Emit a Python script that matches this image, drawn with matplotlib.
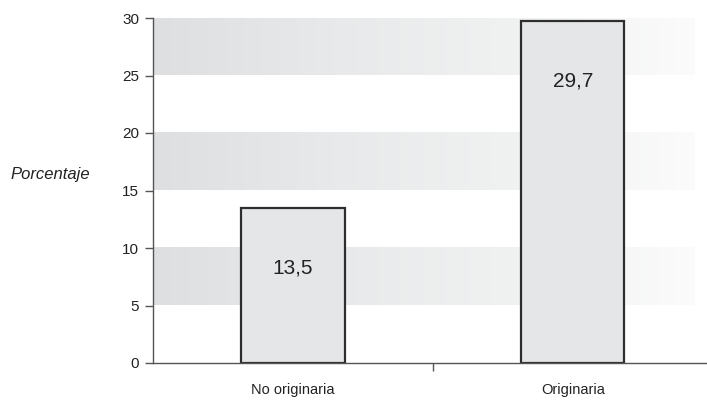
import numpy as np
import matplotlib
matplotlib.use("Agg")
import matplotlib.pyplot as plt
from matplotlib.colors import LinearSegmentedColormap

categorias = ["No originaria", "Originaria"]
porcentajes = [13.5, 29.7]
etiquetas = ["13,5", "29,7"]
bandas = [(5, 10), (15, 20), (25, 30)]

plt.rcParams['font.family'] = ['Liberation Sans', 'DejaVu Sans']

fig = plt.figure(figsize=(7.07, 4.04), dpi=100)
ax = fig.add_axes([153 / 707, 41 / 404, 554 / 707, 345 / 404])

x = np.arange(len(categorias))

# bandas grises con degradado
cmap = LinearSegmentedColormap.from_list("banda", ["#dedfe1", "#e8e9ea", "#f0f1f1", "#fbfbfb"])
grad = np.linspace(0, 1, 256).reshape(1, -1)
for y0, y1 in bandas:
    ax.imshow(grad, cmap=cmap, aspect="auto", extent=(-0.5, 1.436, y0, y1),
              zorder=0, interpolation="bicubic")

ax.bar(x, porcentajes, width=0.37, color="#e5e6e8", edgecolor="#2e2e2e",
       linewidth=1.6, zorder=2)
for xi, h, lab in zip(x, porcentajes, etiquetas):
    ax.text(xi, h - 5.2, lab, ha="center", va="center", fontsize=15, color="#222222", zorder=3)

ax.set_xlim(-0.5, 1.48)
ax.set_ylim(0, 30)
ax.set_yticks(range(0, 31, 5))
ax.set_xticks([0.5])
ax.set_xticklabels([""])
for xi, c in zip(x, categorias):
    ax.text(xi, -2.35, c, ha="center", va="center", fontsize=10.5, color="#222222")

for s in ["top", "right"]:
    ax.spines[s].set_visible(False)
for s in ["left", "bottom"]:
    ax.spines[s].set_color("#555555")
    ax.spines[s].set_linewidth(1.0)
ax.tick_params(axis="both", colors="#555555", labelcolor="#222222", labelsize=11,
               length=6, width=1.0)
ax.tick_params(axis="y", pad=4)

fig.text(10 / 707, 1 - 175 / 404, "Porcentaje", fontsize=12, style="italic",
         color="#222222", ha="left", va="center")

fig.savefig("out.png", dpi=100)
